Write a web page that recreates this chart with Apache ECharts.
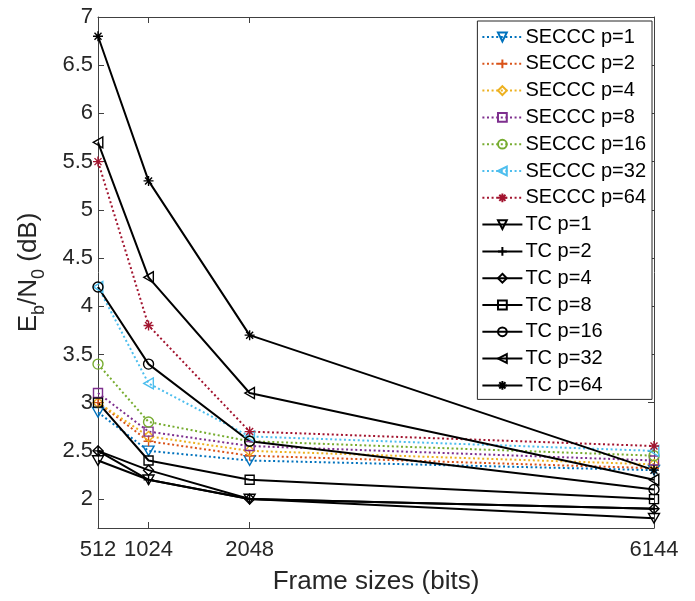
<!DOCTYPE html>
<html>
<head>
<meta charset="utf-8">
<script src="https://cdn.jsdelivr.net/npm/echarts@6/dist/echarts.min.js"></script>
<style>
  html, body { margin: 0; padding: 0; background: #fff; }
  #chart { width: 695px; height: 601px; }
</style>
</head>
<body>
<div id="chart"></div>
<script>
// Frame sizes (bits) on the x axis
const frameSizes = [512, 1024, 2048, 6144];
const xTickValues = [512, 1024, 2048, 6144];
const yTickValues = [2, 2.5, 3, 3.5, 4, 4.5, 5, 5.5, 6, 6.5, 7];

// Required Eb/N0 (dB), SECCC
const secccP1 = [2.9, 2.5, 2.4, 2.3];
const secccP2 = [3.0, 2.6, 2.45, 2.32];
const secccP4 = [3.0, 2.65, 2.5, 2.36];
const secccP8 = [3.1, 2.7, 2.55, 2.4];
const secccP16 = [3.4, 2.8, 2.6, 2.45];
const secccP32 = [4.2, 3.2, 2.65, 2.5];
const secccP64 = [5.5, 3.8, 2.7, 2.55];

// Required Eb/N0 (dB), TC
const tcP1 = [2.4, 2.2, 2.0, 1.8];
const tcP2 = [2.5, 2.2, 2.0, 1.9];
const tcP4 = [2.5, 2.3, 2.0, 1.9];
const tcP8 = [3.0, 2.4, 2.2, 2.0];
const tcP16 = [4.2, 3.4, 2.6, 2.1];
const tcP32 = [5.7, 4.3, 3.1, 2.2];
const tcP64 = [6.8, 5.3, 3.7, 2.3];

// Marker shapes
const SYM = {
  down: 'path://M0,0L10,0L5,8.7Z',
  left: 'path://M0,5L8.7,0L8.7,10Z',
  plus: 'path://M5,0L5,10M0,5L10,5',
  star: 'path://M5,0L5,10M0,5L10,5M1.5,1.5L8.5,8.5M8.5,1.5L1.5,8.5',
  diamond: 'path://M5,0L10,5L5,10L0,5Z',
  square: 'path://M0,0L10,0L10,10L0,10Z',
  circle: 'circle'
};

const axisColor = '#262626';

function makeSeries(name, values, color, symbol, dotted, size) {
  return {
    name: name,
    type: 'line',
    data: frameSizes.map((x, i) => [x, values[i]]),
    symbol: symbol,
    symbolSize: size,
    symbolKeepAspect: true,
    showSymbol: true,
    lineStyle: {
      color: color,
      width: 2,
      type: dotted ? [2, 2.6] : 'solid'
    },
    itemStyle: {
      color: 'rgba(255,255,255,0)',
      borderColor: color,
      borderWidth: 1.4
    },
    emphasis: { disabled: true },
    animation: false
  };
}

const series = [
  makeSeries('SECCC p=1', secccP1, '#0072BD', SYM.down, true, 11),
  makeSeries('SECCC p=2', secccP2, '#D95319', SYM.plus, true, 10),
  makeSeries('SECCC p=4', secccP4, '#EDB120', SYM.diamond, true, 10),
  makeSeries('SECCC p=8', secccP8, '#7E2F8E', SYM.square, true, 9),
  makeSeries('SECCC p=16', secccP16, '#77AC30', SYM.circle, true, 10),
  makeSeries('SECCC p=32', secccP32, '#4DBEEE', SYM.left, true, 11),
  makeSeries('SECCC p=64', secccP64, '#A2142F', SYM.star, true, 10),
  makeSeries('TC p=1', tcP1, '#000000', SYM.down, false, 11),
  makeSeries('TC p=2', tcP2, '#000000', SYM.plus, false, 10),
  makeSeries('TC p=4', tcP4, '#000000', SYM.diamond, false, 10),
  makeSeries('TC p=8', tcP8, '#000000', SYM.square, false, 9),
  makeSeries('TC p=16', tcP16, '#000000', SYM.circle, false, 10),
  makeSeries('TC p=32', tcP32, '#000000', SYM.left, false, 11),
  makeSeries('TC p=64', tcP64, '#000000', SYM.star, false, 10)
];

const font = 'Liberation Sans, Arial, Helvetica, sans-serif';
const lineStyleAxis = { color: '#404040', width: 1 };

const chart = echarts.init(document.getElementById('chart'), null, { renderer: 'canvas' });
chart.setOption({
  backgroundColor: '#ffffff',
  animation: false,
  textStyle: { fontFamily: font },
  grid: { left: 98, right: 41, top: 17, bottom: 73, containLabel: false },
  legend: {
    orient: 'vertical',
    right: 43,
    top: 21,
    itemWidth: 40,
    itemHeight: 11,
    itemGap: 6.8,
    padding: [6, 6, 4, 4],
    backgroundColor: '#ffffff',
    borderColor: axisColor,
    borderWidth: 1,
    textStyle: { fontSize: 20, color: '#000', fontFamily: font, padding: [0, 0, 0, -2] },
    data: series.map(s => s.name)
  },
  xAxis: [
    {
      type: 'value',
      position: 'bottom',
      min: 512,
      max: 6144,
      axisLine: { show: true, lineStyle: lineStyleAxis },
      axisTick: { show: true, inside: true, length: 6, customValues: xTickValues, lineStyle: lineStyleAxis },
      axisLabel: {
        customValues: xTickValues,
        formatter: v => String(v),
        fontSize: 22,
        color: axisColor,
        margin: 11,
        fontFamily: font
      },
      splitLine: { show: false },
      name: 'Frame sizes (bits)',
      nameLocation: 'middle',
      nameGap: 41,
      nameTextStyle: { fontSize: 26, color: axisColor, fontFamily: font }
    },
    {
      type: 'value',
      position: 'top',
      min: 512,
      max: 6144,
      axisLine: { show: true, onZero: false, lineStyle: lineStyleAxis },
      axisTick: { show: true, inside: true, length: 6, customValues: xTickValues, lineStyle: lineStyleAxis },
      axisLabel: { show: false },
      splitLine: { show: false }
    }
  ],
  yAxis: [
    {
      type: 'value',
      position: 'left',
      min: 1.7,
      max: 7,
      axisLine: { show: true, onZero: false, lineStyle: lineStyleAxis },
      axisTick: { show: true, inside: true, length: 6, customValues: yTickValues, lineStyle: lineStyleAxis },
      axisLabel: { customValues: yTickValues, fontSize: 22, color: axisColor, margin: 5, fontFamily: font },
      splitLine: { show: false },
      name: '{n|E}{s|b}{n|/N}{s|0}{n| (dB)}',
      nameLocation: 'middle',
      nameGap: 56,
      nameTextStyle: {
        color: axisColor,
        fontFamily: font,
        rich: {
          n: { fontSize: 26, color: axisColor, fontFamily: font, lineHeight: 32, verticalAlign: 'bottom' },
          s: { fontSize: 18, color: axisColor, fontFamily: font, lineHeight: 32, verticalAlign: 'bottom', padding: [0, 0, -6, 0] }
        }
      }
    },
    {
      type: 'value',
      position: 'right',
      min: 1.7,
      max: 7,
      axisLine: { show: true, onZero: false, lineStyle: lineStyleAxis },
      axisTick: { show: true, inside: true, length: 6, customValues: yTickValues, lineStyle: lineStyleAxis },
      axisLabel: { show: false },
      splitLine: { show: false }
    }
  ],
  series: series
});
</script>
</body>
</html>
